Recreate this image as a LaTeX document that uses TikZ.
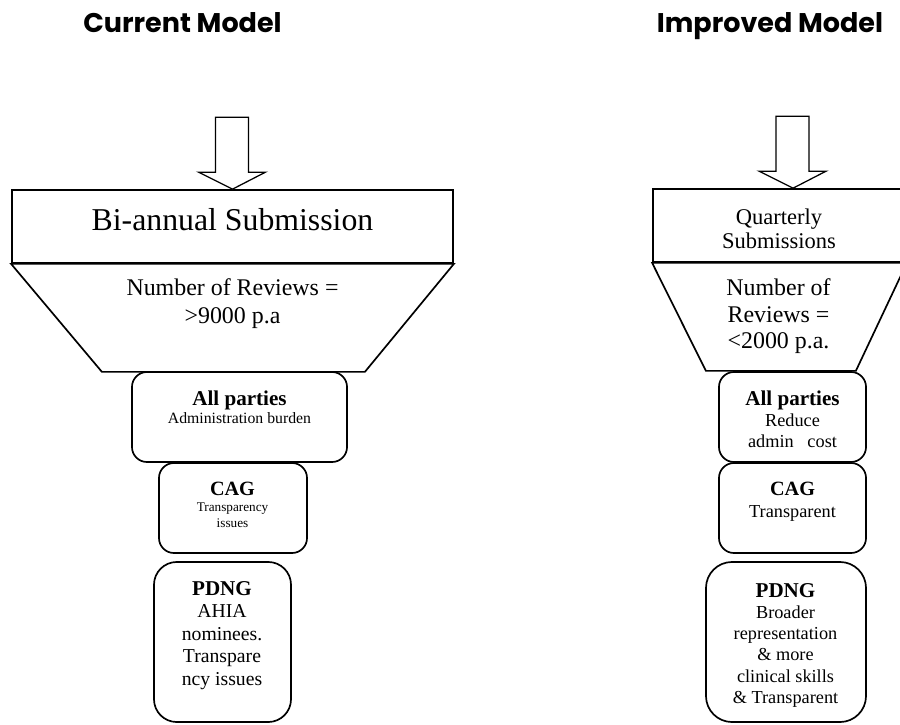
\documentclass[tikz,border=0pt]{standalone}
\usepackage{fontspec}
\setmainfont{Liberation Serif}
\newfontfamily\titlefont{Poppins}
\usepackage{tikz}
\usetikzlibrary{shapes.geometric, positioning}
\tikzstyle{heading} = [font=\titlefont\bfseries\fontsize{19.2}{22}\selectfont, anchor=base, inner sep=0]
\tikzstyle{submit} = [rectangle, draw=black, line width=1.2pt, minimum height=1.825cm, inner sep=0]
\tikzstyle{funnel} = [draw=black, line width=1.2pt, line join=miter]
\tikzstyle{inarrow} = [draw=black, line width=0.9pt, fill=white, line join=miter]
\tikzstyle{party} = [rectangle, rounded corners=0.375cm, draw=black, line width=1.2pt, minimum height=2.25cm, inner sep=0]
\tikzstyle{txt} = [align=center, inner sep=0, anchor=north]

\begin{document}
\begin{tikzpicture}[x=0.025cm, y=-0.025cm]
\useasboundingbox (0,0) rectangle (900,724);
\clip (0,0) rectangle (900,724);
\node (head1) [heading] at (182.5,32) {Current Model};
\node (head2) [heading] at (770,32) {Improved Model};

\node (sub1) [submit, minimum width=11.025cm] at (232.5,226.5) {};
\node (sub1txt) [anchor=base, inner sep=0, font=\fontsize{22.6}{26}\selectfont] at (232.5,230) {Bi-annual Submission};
\draw [inarrow] (sub1.north) -- ++(-34,-17) -- ++(17,0) -- ++(0,-55) -- ++(33,0) -- ++(0,55) -- ++(17,0) -- cycle;
\draw [funnel] (sub1.south west) -- (sub1.south east) -- ++(-89,108) -- ++(-263,0) -- cycle;
\node (rev1) [txt, font=\fontsize{17}{20}\selectfont] at (232.5,278.5) {Number of Reviews =\\>9000 p.a};
\node (all1) [party, minimum width=5.375cm] at (239.5,417) {};
\node (all1txt) [txt, font=\fontsize{11.2}{12.8}\selectfont] at (239.5,390.5) {{\fontsize{15}{12.8}\selectfont\bfseries All parties}\\Administration burden};
\node (cag1) [party, minimum width=3.7cm] at (233,508) {};
\node (cag1txt) [txt, font=\fontsize{9.4}{11.4}\selectfont] at (232.5,481.4) {{\fontsize{14.4}{11.4}\selectfont\bfseries CAG}\\Transparency\\issues};
\node (pdng1) [party, rounded corners=0.57cm, minimum width=3.425cm, minimum height=4cm] at (222.5,642) {};
\node (pdng1txt) [txt, font=\fontsize{14}{16}\selectfont] at (222,580.9) {{\fontsize{15}{16}\selectfont\bfseries PDNG}\\AHIA\\nominees.\\Transpare\\ncy issues};

\node (sub2) [submit, minimum width=6.325cm] at (779.5,225.5) {};
\node (sub2txt) [txt, font=\fontsize{16}{17}\selectfont] at (779,208.5) {Quarterly\\Submissions};
\draw [inarrow] ([xshift=0.34cm]sub2.north) -- ++(-34,-17) -- ++(17,0) -- ++(0,-55) -- ++(33,0) -- ++(0,55) -- ++(17,0) -- cycle;
\draw [funnel] (sub2.south west) -- (sub2.south east) -- ++(-51,108) -- ++(-150,0) -- cycle;
\node (rev2) [txt, font=\fontsize{17}{18.8}\selectfont] at (778.5,278.5) {Number of\\Reviews =\\<2000 p.a.};
\node (all2) [party, minimum width=3.675cm] at (792.5,417) {};
\node (all2txt) [txt, font=\fontsize{13}{15}\selectfont] at (792.5,390.5) {{\fontsize{15}{15}\selectfont\bfseries All parties}\\Reduce\\admin\ \ \ cost};
\node (cag2) [party, minimum width=3.675cm] at (792.5,508) {};
\node (cag2txt) [txt, font=\fontsize{13}{15.6}\selectfont] at (792.5,481.4) {{\fontsize{14.4}{15.6}\selectfont\bfseries CAG}\\Transparent};
\node (pdng2) [party, rounded corners=0.65cm, minimum width=4cm, minimum height=4cm] at (786,642) {};
\node (pdng2txt) [txt, font=\fontsize{13}{15.1}\selectfont] at (785.5,582.9) {{\fontsize{15}{15.1}\selectfont\bfseries PDNG}\\Broader\\representation\\\& more\\clinical skills\\\& Transparent};
\end{tikzpicture}
\end{document}
